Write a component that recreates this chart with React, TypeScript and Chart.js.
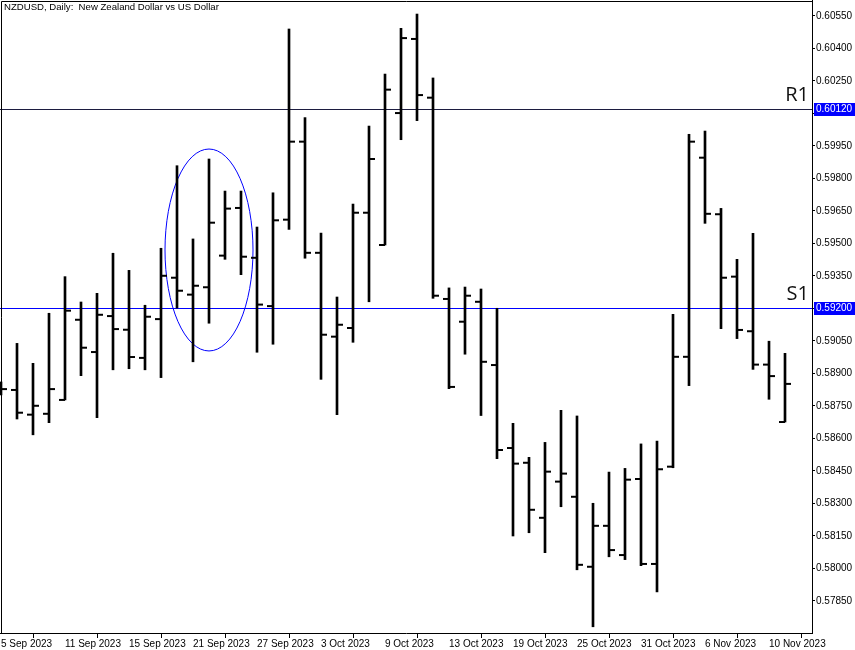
import { useEffect, useRef } from 'react';
import { Chart, registerables } from 'chart.js';

Chart.register(...registerables);

// Trading days (one bar each)
const dates = [
  '5 Sep 2023', '6 Sep 2023', '7 Sep 2023', '8 Sep 2023',
  '11 Sep 2023', '12 Sep 2023', '13 Sep 2023', '14 Sep 2023', '15 Sep 2023',
  '18 Sep 2023', '19 Sep 2023', '20 Sep 2023', '21 Sep 2023', '22 Sep 2023',
  '25 Sep 2023', '26 Sep 2023', '27 Sep 2023', '28 Sep 2023', '29 Sep 2023',
  '2 Oct 2023', '3 Oct 2023', '4 Oct 2023', '5 Oct 2023', '6 Oct 2023',
  '9 Oct 2023', '10 Oct 2023', '11 Oct 2023', '12 Oct 2023', '13 Oct 2023',
  '16 Oct 2023', '17 Oct 2023', '18 Oct 2023', '19 Oct 2023', '20 Oct 2023',
  '23 Oct 2023', '24 Oct 2023', '25 Oct 2023', '26 Oct 2023', '27 Oct 2023',
  '30 Oct 2023', '31 Oct 2023', '1 Nov 2023', '2 Nov 2023', '3 Nov 2023',
  '6 Nov 2023', '7 Nov 2023', '8 Nov 2023', '9 Nov 2023', '10 Nov 2023',
  '13 Nov 2023',
];

const opens = [
  0.58833, 0.58824, 0.58710, 0.58714, 0.58778, 0.59148, 0.58999, 0.59165, 0.59102, 0.58972,
  0.59151, 0.59342, 0.59264, 0.59298, 0.59444, 0.59664, 0.59434, 0.59211, 0.59610, 0.59970,
  0.59457, 0.59070, 0.59110, 0.59642, 0.59493, 0.60102, 0.60444, 0.60173, 0.59244, 0.59139,
  0.59231, 0.58939, 0.58556, 0.58488, 0.58234, 0.58401, 0.58331, 0.58008, 0.58197, 0.58062,
  0.58413, 0.58021, 0.58470, 0.58977, 0.59896, 0.59635, 0.59347, 0.59095, 0.58941, 0.58676,
];
const highs = [
  0.58861, 0.59039, 0.58947, 0.59178, 0.59347, 0.59230, 0.59270, 0.59455, 0.59376, 0.59215,
  0.59478, 0.59859, 0.59521, 0.59890, 0.59742, 0.59742, 0.59576, 0.59734, 0.60490, 0.60081,
  0.59548, 0.59253, 0.59682, 0.60042, 0.60282, 0.60493, 0.60559, 0.60264, 0.59295, 0.59299,
  0.59290, 0.59201, 0.58670, 0.58513, 0.58582, 0.58730, 0.58704, 0.58301, 0.58445, 0.58462,
  0.58575, 0.58588, 0.59173, 0.60004, 0.60019, 0.59662, 0.59427, 0.59547, 0.59049, 0.58993,
];
const lows = [
  0.58801, 0.58690, 0.58617, 0.58673, 0.58778, 0.58890, 0.58696, 0.58917, 0.58922, 0.58917,
  0.58881, 0.59202, 0.58954, 0.59132, 0.59427, 0.59356, 0.58998, 0.59035, 0.59565, 0.59432,
  0.58873, 0.58710, 0.59044, 0.59231, 0.59493, 0.59979, 0.60067, 0.59247, 0.58830, 0.58989,
  0.58706, 0.58507, 0.58150, 0.58165, 0.58073, 0.58285, 0.57994, 0.57731, 0.58054, 0.58041,
  0.58013, 0.57892, 0.58465, 0.58844, 0.59593, 0.59107, 0.59061, 0.58919, 0.58781, 0.58676,
];
const closes = [
  0.58828, 0.58719, 0.58751, 0.58828, 0.59190, 0.59019, 0.59171, 0.59105, 0.58976, 0.59162,
  0.59351, 0.59282, 0.59305, 0.59596, 0.59661, 0.59439, 0.59218, 0.59607, 0.59970, 0.59457,
  0.59079, 0.59125, 0.59642, 0.59890, 0.60210, 0.60448, 0.60185, 0.59259, 0.58838, 0.59259,
  0.58954, 0.58547, 0.58484, 0.58271, 0.58447, 0.58438, 0.58017, 0.58197, 0.58085, 0.58410,
  0.58021, 0.58458, 0.58977, 0.59970, 0.59637, 0.59342, 0.59101, 0.58941, 0.58888, 0.58852,
];

// Axis ticks
const xTickIndexes = [0, 4, 8, 12, 16, 20, 24, 28, 32, 36, 40, 44, 48];
const yTicks = [
  0.57850, 0.58000, 0.58150, 0.58300, 0.58450, 0.58600, 0.58750, 0.58900, 0.59050,
  0.59200, 0.59350, 0.59500, 0.59650, 0.59800, 0.59950, 0.60100, 0.60250, 0.60400, 0.60550,
];

// Support / resistance levels
const levelNames = ['R1', 'S1'];
const levelValues = [0.60120, 0.59200];

// Highlight ellipse (bar index range and price range)
const ellipseIndexRange = [10.25, 15.75];
const ellipsePriceRange = [0.59004, 0.59936];

const title = 'NZDUSD, Daily:  New Zealand Dollar vs US Dollar';

const Y_MAX = 0.606238;
const Y_MIN = 0.577023;
const X_MIN = -0.0625;
const X_MAX = 50.6875;

const FONT = "'Liberation Sans', Arial, sans-serif";

export default function App() {
  const ref = useRef<HTMLCanvasElement | null>(null);

  useEffect(() => {
    const canvas = ref.current;
    if (!canvas) return;

    const overlay = {
      id: 'overlay',
      beforeDatasetsDraw(chart: any) {
        const { ctx, chartArea } = chart;
        const xs = chart.scales.x;
        const ys = chart.scales.y;
        ctx.save();
        // level lines
        levelValues.forEach((v, i) => {
          const py = Math.round(ys.getPixelForValue(v)) + 0.5;
          ctx.strokeStyle = i === 0 ? '#1c1c40' : '#0000ff';
          ctx.lineWidth = 1;
          ctx.beginPath();
          ctx.moveTo(chartArea.left, py);
          ctx.lineTo(chartArea.right, py);
          ctx.stroke();
        });
        // ellipse
        const x0 = xs.getPixelForValue(ellipseIndexRange[0]);
        const x1 = xs.getPixelForValue(ellipseIndexRange[1]);
        const y0 = ys.getPixelForValue(ellipsePriceRange[1]);
        const y1 = ys.getPixelForValue(ellipsePriceRange[0]);
        ctx.strokeStyle = '#0000ff';
        ctx.lineWidth = 1;
        ctx.beginPath();
        ctx.ellipse((x0 + x1) / 2, (y0 + y1) / 2, (x1 - x0) / 2, (y1 - y0) / 2, 0, 0, Math.PI * 2);
        ctx.stroke();
        ctx.restore();
      },
      afterDraw(chart: any) {
        const { ctx, chartArea } = chart;
        const ys = chart.scales.y;
        ctx.save();
        // frame (left / top)
        ctx.strokeStyle = '#000';
        ctx.lineWidth = 1;
        ctx.beginPath();
        ctx.moveTo(chartArea.left + 1.5, chartArea.bottom);
        ctx.lineTo(chartArea.left + 1.5, chartArea.top + 1.5);
        ctx.lineTo(chartArea.right, chartArea.top + 1.5);
        ctx.stroke();
        // title
        ctx.fillStyle = '#000';
        ctx.font = `9.6px ${FONT}`;
        ctx.textAlign = 'left';
        ctx.textBaseline = 'top';
        ctx.fillText(title, chartArea.left + 4, chartArea.top + 3);
        // level labels + price boxes
        levelValues.forEach((v, i) => {
          const py = Math.round(ys.getPixelForValue(v));
          ctx.font = `20px 'Open Sans', 'Noto Sans', sans-serif`;
          ctx.fillStyle = '#111';
          ctx.textAlign = 'right';
          ctx.textBaseline = 'alphabetic';
          ctx.fillText(levelNames[i], chartArea.right - 3, py - 8);
          ctx.fillStyle = '#0000ff';
          ctx.fillRect(chartArea.right + 2, py - 6, 41, 13);
          ctx.fillStyle = '#fff';
          ctx.font = `10px ${FONT}`;
          ctx.textAlign = 'left';
          ctx.textBaseline = 'middle';
          ctx.fillText(v.toFixed(5), chartArea.right + 4, py + 0.5);
        });
        ctx.restore();
      },
    };

    const chart = new Chart(canvas, {
      type: 'bar',
      data: {
        datasets: [
          {
            type: 'bar',
            data: dates.map((_, i) => ({ x: i, y: [lows[i], highs[i]] })) as any,
            backgroundColor: '#000',
            borderWidth: 0,
            barThickness: 2,
            grouped: false,
          } as any,
          {
            type: 'line',
            data: dates.map((_, i) => ({ x: i, y: opens[i] })),
            showLine: false,
            pointStyle: 'dash',
            pointRadius: 6,
            pointHoverRadius: 6,
            pointRotation: 180,
            pointBorderColor: '#000',
            pointBackgroundColor: '#000',
            pointBorderWidth: 2,
          } as any,
          {
            type: 'line',
            data: dates.map((_, i) => ({ x: i, y: closes[i] })),
            showLine: false,
            pointStyle: 'dash',
            pointRadius: 6,
            pointHoverRadius: 6,
            pointRotation: 0,
            pointBorderColor: '#000',
            pointBackgroundColor: '#000',
            pointBorderWidth: 2,
          } as any,
        ],
      },
      options: {
        responsive: false,
        animation: false,
        events: [],
        layout: { padding: 0, autoPadding: false },
        plugins: {
          legend: { display: false },
          tooltip: { enabled: false },
          title: { display: false },
        },
        scales: {
          x: {
            type: 'linear',
            min: X_MIN,
            max: X_MAX,
            offset: false,
            grid: {
              display: true,
              drawOnChartArea: false,
              drawTicks: true,
              tickLength: 5,
              color: '#000',
              tickColor: '#000',
            },
            border: { display: true, color: '#000', width: 1 },
            ticks: {
              autoSkip: false,
              maxRotation: 0,
              minRotation: 0,
              align: 'start',
              padding: 0,
              color: '#000',
              font: { family: FONT, size: 10 },
              callback: (v: any) => dates[Math.round(Number(v))] ?? '',
            },
            afterBuildTicks: (s: any) => {
              s.ticks = xTickIndexes.map((v) => ({ value: v }));
            },
            afterFit: (s: any) => {
              s.height = 17;
              s.paddingLeft = 0;
              s.paddingRight = 0;
            },
          } as any,
          y: {
            type: 'linear',
            position: 'right',
            min: Y_MIN,
            max: Y_MAX,
            grid: {
              display: true,
              drawOnChartArea: false,
              drawTicks: true,
              tickLength: 3,
              color: '#000',
              tickColor: '#000',
            },
            border: { display: true, color: '#000', width: 1 },
            ticks: {
              autoSkip: false,
              padding: 1,
              color: '#000',
              font: { family: FONT, size: 10 },
              callback: (v: any) => Number(v).toFixed(5),
            },
            afterBuildTicks: (s: any) => {
              s.ticks = yTicks.map((v) => ({ value: v }));
            },
            afterFit: (s: any) => {
              s.width = 43;
              s.paddingTop = 0;
              s.paddingBottom = 0;
            },
          } as any,
        },
      },
      plugins: [overlay],
    });

    return () => chart.destroy();
  }, []);

  return (
    <div style={{ position: 'absolute', left: 0, top: 0, width: 855, height: 650, background: '#fff' }}>
      <canvas ref={ref} width={855} height={650} style={{ display: 'block', width: 855, height: 650 }} />
    </div>
  );
}
